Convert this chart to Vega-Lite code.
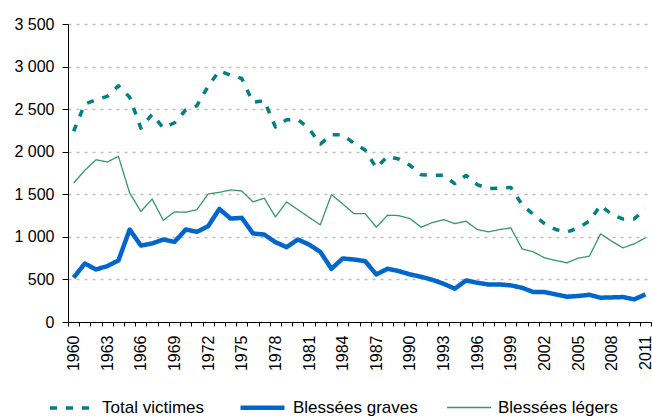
{
  "$schema": "https://vega.github.io/schema/vega-lite/v6.json",
  "width": 583,
  "height": 298,
  "autosize": {"type": "none"},
  "padding": {"left": 68, "top": 24, "right": 1, "bottom": 95},
  "config": {"view": {"stroke": null}, "font": "Liberation Sans"},
  "data": {
    "values": [
      {"year": 1960, "total": 2240, "graves": 520, "legers": 1633},
      {"year": 1961, "total": 2560, "graves": 687, "legers": 1781},
      {"year": 1962, "total": 2610, "graves": 617, "legers": 1906},
      {"year": 1963, "total": 2650, "graves": 656, "legers": 1879},
      {"year": 1964, "total": 2775, "graves": 723, "legers": 1945},
      {"year": 1965, "total": 2640, "graves": 1086, "legers": 1516},
      {"year": 1966, "total": 2277, "graves": 898, "legers": 1297},
      {"year": 1967, "total": 2440, "graves": 922, "legers": 1445},
      {"year": 1968, "total": 2280, "graves": 969, "legers": 1195},
      {"year": 1969, "total": 2340, "graves": 941, "legers": 1293},
      {"year": 1970, "total": 2490, "graves": 1086, "legers": 1289},
      {"year": 1971, "total": 2540, "graves": 1059, "legers": 1320},
      {"year": 1972, "total": 2770, "graves": 1125, "legers": 1504},
      {"year": 1973, "total": 2950, "graves": 1328, "legers": 1523},
      {"year": 1974, "total": 2900, "graves": 1215, "legers": 1551},
      {"year": 1975, "total": 2860, "graves": 1223, "legers": 1539},
      {"year": 1976, "total": 2580, "graves": 1040, "legers": 1410},
      {"year": 1977, "total": 2600, "graves": 1027, "legers": 1455},
      {"year": 1978, "total": 2290, "graves": 938, "legers": 1234},
      {"year": 1979, "total": 2375, "graves": 879, "legers": 1410},
      {"year": 1980, "total": 2380, "graves": 969, "legers": 1320},
      {"year": 1981, "total": 2270, "graves": 910, "legers": 1230},
      {"year": 1982, "total": 2090, "graves": 824, "legers": 1141},
      {"year": 1983, "total": 2200, "graves": 625, "legers": 1496},
      {"year": 1984, "total": 2200, "graves": 746, "legers": 1387},
      {"year": 1985, "total": 2100, "graves": 734, "legers": 1273},
      {"year": 1986, "total": 2020, "graves": 715, "legers": 1273},
      {"year": 1987, "total": 1810, "graves": 559, "legers": 1113},
      {"year": 1988, "total": 1945, "graves": 625, "legers": 1254},
      {"year": 1989, "total": 1914, "graves": 598, "legers": 1250},
      {"year": 1990, "total": 1840, "graves": 559, "legers": 1215},
      {"year": 1991, "total": 1730, "graves": 531, "legers": 1113},
      {"year": 1992, "total": 1723, "graves": 495, "legers": 1168},
      {"year": 1993, "total": 1723, "graves": 449, "legers": 1203},
      {"year": 1994, "total": 1625, "graves": 391, "legers": 1156},
      {"year": 1995, "total": 1723, "graves": 488, "legers": 1184},
      {"year": 1996, "total": 1613, "graves": 461, "legers": 1086},
      {"year": 1997, "total": 1566, "graves": 441, "legers": 1059},
      {"year": 1998, "total": 1574, "graves": 441, "legers": 1086},
      {"year": 1999, "total": 1580, "graves": 430, "legers": 1105},
      {"year": 2000, "total": 1379, "graves": 402, "legers": 859},
      {"year": 2001, "total": 1262, "graves": 352, "legers": 824},
      {"year": 2002, "total": 1156, "graves": 352, "legers": 754},
      {"year": 2003, "total": 1086, "graves": 324, "legers": 723},
      {"year": 2004, "total": 1055, "graves": 297, "legers": 695},
      {"year": 2005, "total": 1105, "graves": 305, "legers": 750},
      {"year": 2006, "total": 1184, "graves": 320, "legers": 773},
      {"year": 2007, "total": 1371, "graves": 285, "legers": 1035},
      {"year": 2008, "total": 1262, "graves": 289, "legers": 949},
      {"year": 2009, "total": 1211, "graves": 293, "legers": 871},
      {"year": 2010, "total": 1211, "graves": 266, "legers": 918},
      {"year": 2011, "total": 1328, "graves": 324, "legers": 988}
    ]
  },
  "transform": [{"fold": ["total", "graves", "legers"], "as": ["serie", "value"]}],
  "mark": {"type": "line", "strokeCap": "butt", "strokeJoin": "round"},
  "encoding": {
    "x": {
      "field": "year",
      "type": "ordinal",
      "bandPosition": 0.5,
      "scale": {"type": "band", "paddingInner": 0, "paddingOuter": 0},
      "axis": {
        "title": null,
        "tickBand": "extent",
        "labelAngle": -90,
        "labelExpr": "(toNumber(datum.value) - 1960) % 3 == 0 ? datum.label : ''",
        "labelOverlap": false,
        "labelFontSize": 16,
        "labelColor": "#000000",
        "labelPadding": 9,
        "tickSize": 4,
        "tickColor": "#000000",
        "domainColor": "#000000",
        "grid": false
      }
    },
    "y": {
      "field": "value",
      "type": "quantitative",
      "scale": {"domain": [0, 3500], "nice": false},
      "axis": {
        "title": null,
        "values": [0, 500, 1000, 1500, 2000, 2500, 3000, 3500],
        "labelExpr": "replace(format(datum.value, ','), ',', ' ')",
        "labelFontSize": 16,
        "labelColor": "#000000",
        "labelPadding": 8,
        "tickSize": 6,
        "tickColor": "#000000",
        "domainColor": "#000000",
        "grid": true,
        "gridDash": [3, 5],
        "gridColor": "#BFBFBF",
        "gridWidth": 1.5
      }
    },
    "color": {
      "field": "serie",
      "type": "nominal",
      "scale": {"domain": ["total", "graves", "legers"], "range": ["#008080", "#0066CC", "#339966"]},
      "legend": {
        "orient": "none",
        "legendX": -20,
        "legendY": 359,
        "direction": "horizontal",
        "title": null,
        "symbolType": "stroke",
        "symbolSize": 1936,
        "labelFontSize": 17,
        "labelColor": "#000000",
        "labelOffset": 6,
        "columnPadding": 26,
        "labelExpr": "datum.label == 'total' ? 'Total victimes' : datum.label == 'graves' ? 'Blessées graves' : 'Blessées légers'"
      }
    },
    "strokeDash": {
      "field": "serie",
      "type": "nominal",
      "scale": {"domain": ["total", "graves", "legers"], "range": [[7, 9], [1, 0], [1, 0]]}
    },
    "strokeWidth": {
      "field": "serie",
      "type": "nominal",
      "scale": {"type": "ordinal", "domain": ["total", "graves", "legers"], "range": [3.5, 4.5, 1.3]}
    }
  }
}
